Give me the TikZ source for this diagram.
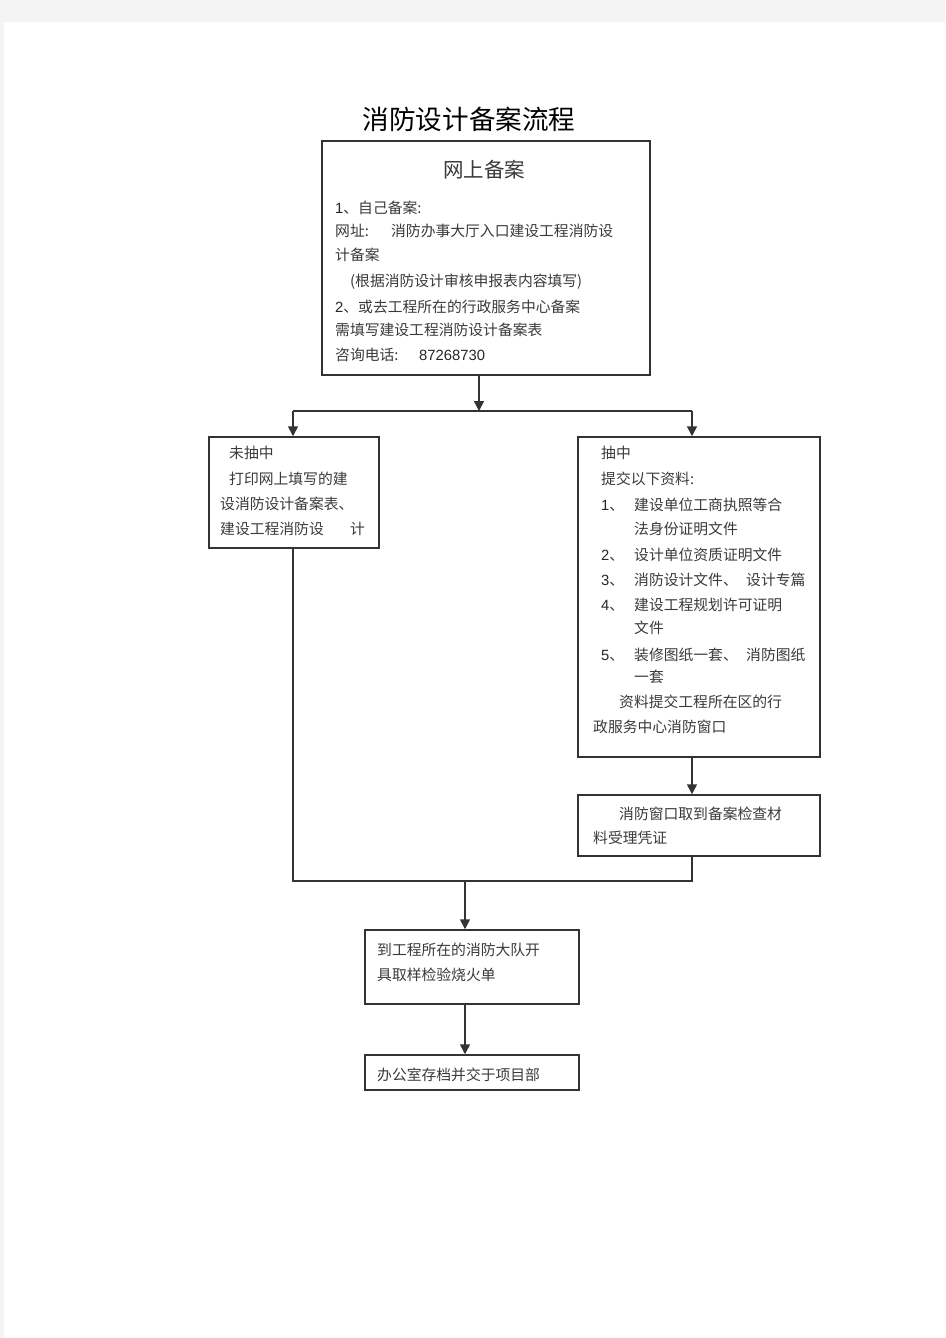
\documentclass[tikz,border=0pt]{standalone}
\usepackage{fontspec}
\newfontfamily\cjk{Noto Sans CJK SC}
\newfontfamily\arialish{Liberation Sans}
\newcommand{\dg}[1]{{\arialish\color{black!85}#1}}
\usetikzlibrary{arrows.meta}
\definecolor{pagegray}{HTML}{F4F4F4}
\definecolor{linec}{HTML}{333333}
\definecolor{textc}{HTML}{3A3A3A}
\begin{document}
\begin{tikzpicture}[x=1pt,y=-1pt,
  box/.style={draw=linec, line width=1.5pt, rectangle, inner sep=0pt, fill=white},
  txt/.style={anchor=west, inner sep=0pt, text=textc, font=\cjk\fontsize{14.8}{17}\selectfont, text height=13pt, text depth=1.8pt},
  conn/.style={draw=linec, line width=1.5pt},
  arr/.style={conn, -{Triangle[width=10pt,length=10pt]}}
]
\useasboundingbox (0,0) rectangle (945,1338);
\fill[pagegray] (0,0) rectangle (945,1338);
\fill[white] (4,22) rectangle (945,1338);

% title
\node[inner sep=0pt, font=\cjk\fontsize{26.6}{30}\selectfont, text=black] (title) at (469,119) {消防设计备案流程};

% boxes
\node[box, minimum width=328pt, minimum height=234pt] (top) at (486,258) {};
\node[box, minimum width=170pt, minimum height=111pt] (left) at (294,492.5) {};
\node[box, minimum width=242pt, minimum height=320pt] (right) at (699,597) {};
\node[box, minimum width=242pt, minimum height=61pt] (win) at (699,825.5) {};
\node[box, minimum width=214pt, minimum height=74pt] (fire) at (472,967) {};
\node[box, minimum width=214pt, minimum height=35pt] (office) at (472,1072.5) {};

% top box text
\node[inner sep=0pt, text=textc, font=\cjk\fontsize{20.5}{24}\selectfont] (t0) at (484,170) {网上备案};
\node[txt] (t1) at (335,208) {\dg{1}、自己备案:};
\node[txt] (t2) at (335,231) {\makebox[56pt][l]{网址:}消防办事大厅入口建设工程消防设};
\node[txt] (t3) at (335,255) {计备案};
\node[txt] (t4) at (350,281) {(根据消防设计审核申报表内容填写)};
\node[txt] (t5) at (335,307) {\dg{2}、或去工程所在的行政服务中心备案};
\node[txt] (t6) at (335,330) {需填写建设工程消防设计备案表};
\node[txt] (t7) at (335,355) {\makebox[84pt][l]{咨询电话:}\dg{87268730}};

% left box text
\node[txt] (l1) at (229,453) {未抽中};
\node[txt] (l2) at (229,479) {打印网上填写的建};
\node[txt] (l3) at (220,504) {设消防设计备案表、};
\node[txt] (l4) at (220,529) {\makebox[130pt][l]{建设工程消防设}计};

% right box text
\node[txt] (r1) at (601,453) {抽中};
\node[txt] (r2) at (601,479) {提交以下资料:};
\node[txt] (r3n) at (601,505) {\dg{1}、};
\node[txt] (r3) at (634,505) {建设单位工商执照等合};
\node[txt] (r4) at (634,529) {法身份证明文件};
\node[txt] (r5n) at (601,555) {\dg{2}、};
\node[txt] (r5) at (634,555) {设计单位资质证明文件};
\node[txt] (r6n) at (601,580) {\dg{3}、};
\node[txt] (r6) at (634,580) {\makebox[112pt][l]{消防设计文件、}设计专篇};
\node[txt] (r7n) at (601,605) {\dg{4}、};
\node[txt] (r7) at (634,605) {建设工程规划许可证明};
\node[txt] (r8) at (634,628) {文件};
\node[txt] (r9n) at (601,655) {\dg{5}、};
\node[txt] (r9) at (634,655) {\makebox[112pt][l]{装修图纸一套、}消防图纸};
\node[txt] (r10) at (634,677) {一套};
\node[txt] (r11) at (619,702) {资料提交工程所在区的行};
\node[txt] (r12) at (593,727) {政服务中心消防窗口};

% window box
\node[txt] (w1) at (619,814) {消防窗口取到备案检查材};
\node[txt] (w2) at (593,838) {料受理凭证};

% fire box
\node[txt] (f1) at (377,950) {到工程所在的消防大队开};
\node[txt] (f2) at (377,975) {具取样检验烧火单};

% office box
\node[txt] (o1) at (377,1075) {办公室存档并交于项目部};

% connectors
\coordinate (split) at (479,411);
\coordinate (sl) at (293,411);
\coordinate (sr) at (692,411);
\coordinate (ml) at (293,881);
\coordinate (mr) at (692,881);
\coordinate (mm) at (465,881);

\draw[arr] (top.south -| split) -- (split);
\draw[conn] (sl) -- (sr);
\draw[arr] (sl) -- (left.north -| sl);
\draw[arr] (sr) -- (right.north -| sr);
\draw[arr] (right.south -| sr) -- (win.north -| sr);
\draw[conn] (left.south -| ml) -- (ml) -- (mr) -- (win.south -| mr);
\draw[arr] (mm) -- (fire.north -| mm);
\draw[arr] (fire.south -| mm) -- (office.north -| mm);
\end{tikzpicture}
\end{document}
